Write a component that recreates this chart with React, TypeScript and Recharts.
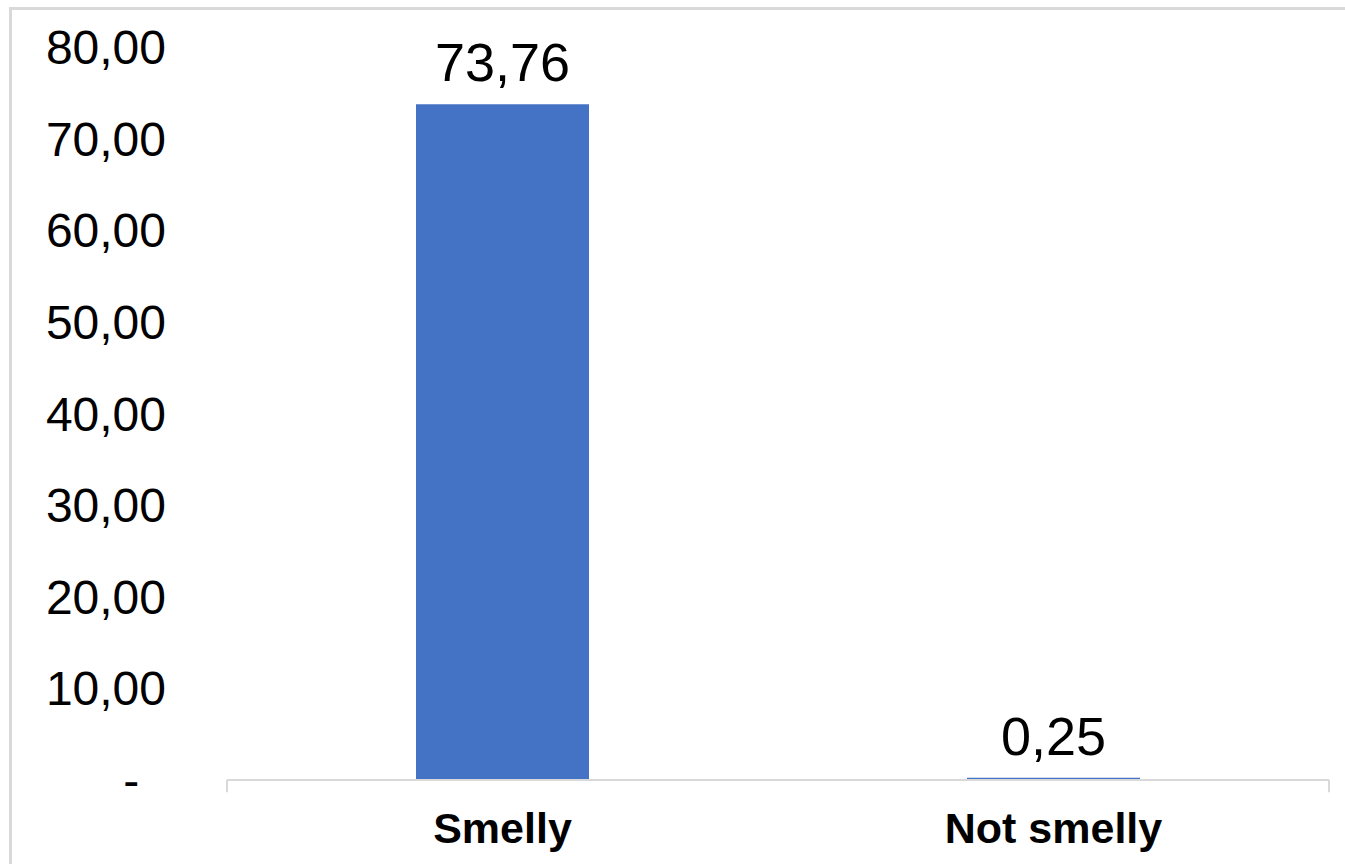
import React from "react";
import { BarChart, Bar, XAxis, YAxis, LabelList, ReferenceLine } from "recharts";

const categories = ["Smelly", "Not smelly"];
const values = [73.76, 0.25];
const yTicks = [0, 10, 20, 30, 40, 50, 60, 70, 80];
const boundaryTicks = [0, 1, 2];

const data = categories.map((c, i) => ({ name: c, value: values[i] }));

const fmt = (v: number) => (v === 0 ? "-\u00A0\u00A0" : v.toFixed(2).replace(".", ","));
const FONT = "'Liberation Sans', Arial, sans-serif";

export default function App() {
  return (
    <div style={{ position: "absolute", left: 0, top: 0, width: 1345, height: 864, overflow: "hidden", background: "#fff" }}>
      <div
        style={{
          position: "absolute",
          left: 9,
          top: 7,
          width: 1400,
          height: 900,
          border: "3px solid #d9d9d9",
          boxSizing: "border-box",
        }}
      />
      <div style={{ position: "absolute", left: 0, top: 0 }}>
        <BarChart
          width={1345}
          height={864}
          data={data}
          margin={{ top: 47, right: 16, bottom: 0, left: 0 }}
          barCategoryGap={0}
        >
          <XAxis
            dataKey="name"
            height={84}
            axisLine={{ stroke: "#d9d9d9", strokeWidth: 2 }}
            tickLine={false}
            tickSize={0}
            tickMargin={32}
            tick={{ fill: "#000", fontSize: 43, fontWeight: 700, fontFamily: FONT }}
          />
          <XAxis xAxisId="grid" type="number" domain={[0, 2]} hide />
          <YAxis
            domain={[0, 80]}
            ticks={yTicks}
            width={227}
            axisLine={false}
            tickLine={false}
            tickSize={0}
            tickMargin={61}
            tickFormatter={fmt}
            tick={{ fill: "#000", fontSize: 48, fontFamily: FONT }}
            interval={0}
          />
          {boundaryTicks.map((b) => (
            <ReferenceLine
              key={b}
              xAxisId="grid"
              segment={[
                { x: b, y: 0 },
                { x: b, y: -1.35 },
              ]}
              stroke="#d9d9d9"
              strokeWidth={2}
              ifOverflow="visible"
            />
          ))}
          <Bar dataKey="value" fill="#4472C4" barSize={173} isAnimationActive={false}>
            <LabelList
              dataKey="value"
              position="top"
              offset={23}
              formatter={(v: number) => v.toFixed(2).replace(".", ",")}
              style={{ fill: "#000", fontSize: 54, fontFamily: FONT }}
            />
          </Bar>
        </BarChart>
      </div>
    </div>
  );
}
